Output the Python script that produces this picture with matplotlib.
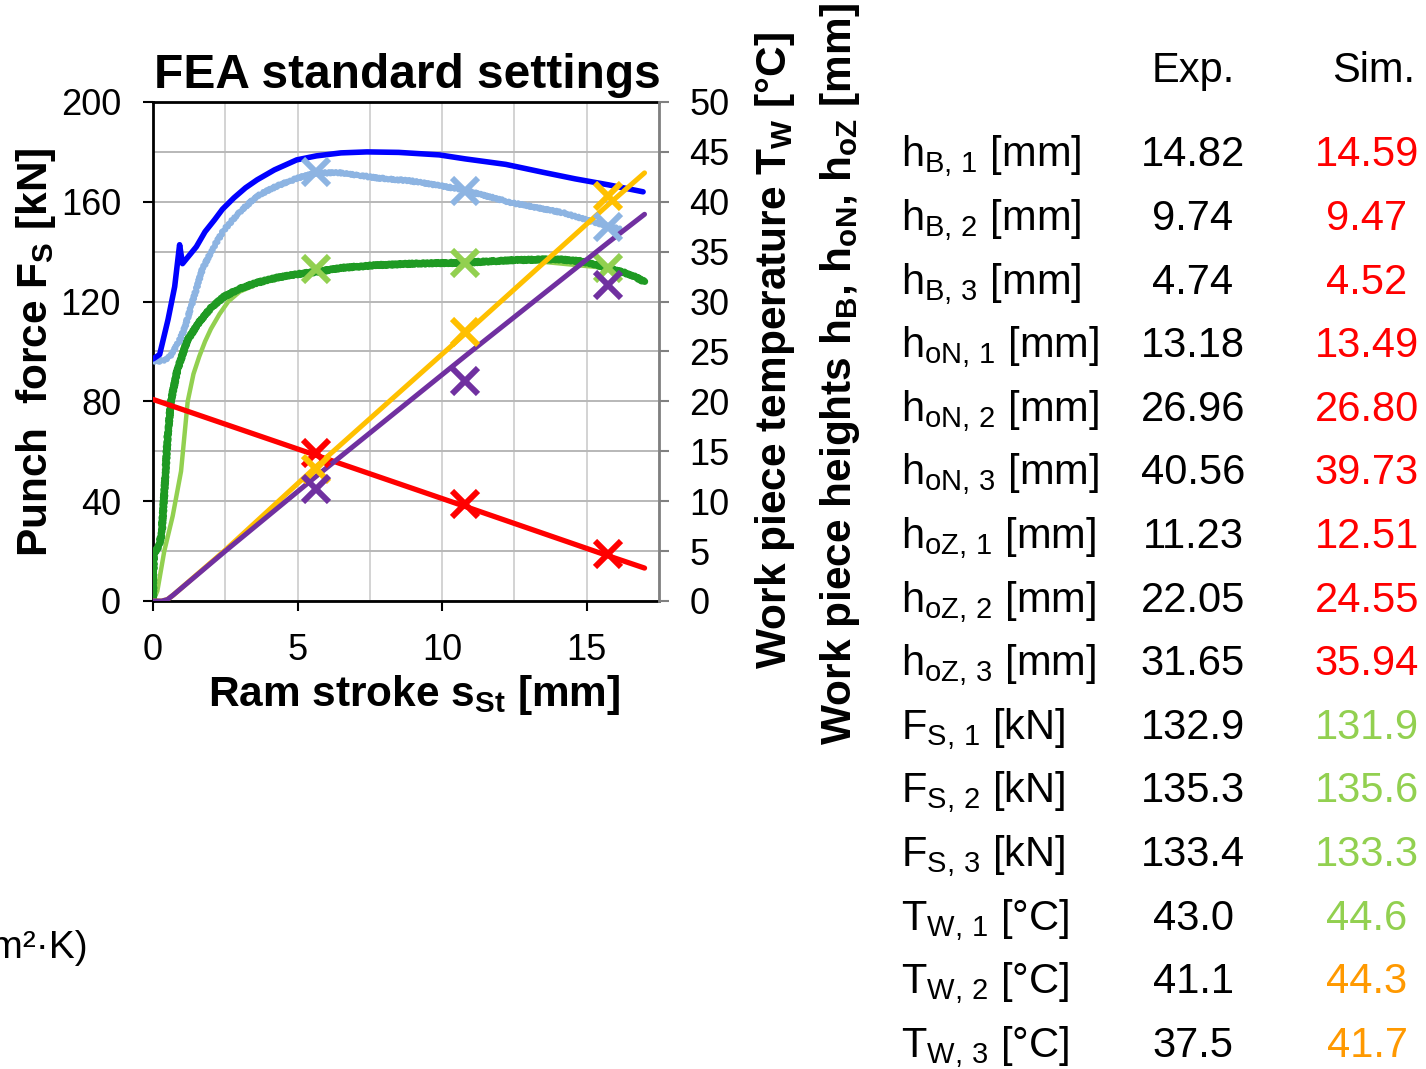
import matplotlib
matplotlib.use('Agg')
import matplotlib.pyplot as plt
from matplotlib import font_manager
from matplotlib.ticker import MultipleLocator

# ram stroke [mm] at the three interrupted forming stages
stage_stroke = [5.65, 10.8, 15.75]

# punch force F_S [kN], left axis
fs_sim_x = [0, 0.03, 0.2, 0.3, 0.4, 0.5, 0.62, 0.84, 1.19, 1.65, 2.0, 2.46, 3.0, 3.6,
            4.3, 5.0, 5.65, 6.5, 7.72, 9.0, 10.8, 12.4, 14.0, 14.8, 15.3, 15.75,
            16.3, 16.7, 17.0]
fs_sim_y = [0, 19, 22, 27, 45, 65, 80, 92.6, 104.6, 112.6, 117.5, 122, 125.2, 127.6,
            129.6, 131.0, 131.9, 133.5, 134.6, 135.2, 135.6, 136.6, 137.0, 136.2, 134.9, 133.3,
            131.6, 129.8, 127.9]
fs_exp_x = [0, 0.15, 0.39, 0.68, 0.97, 1.2, 1.4, 1.6, 1.8, 2.0, 2.3, 2.6, 3.0,
            3.6, 5.65, 7.7, 10.8, 13.0, 15.75, 16.3]
fs_exp_y = [0, 4, 20, 34, 52, 80, 91, 98, 104, 109, 115, 120, 124,
            127, 132.9, 134.5, 135.3, 136.5, 133.4, 131.5]
fs_exp_stage = [132.9, 135.3, 133.4]
fs_sim_stage = [131.9, 135.6, 133.3]

# work piece temperature T_W [°C], right axis
tw_sim_x = [0, 0.23, 0.52, 0.75, 0.92, 1.02, 1.5, 1.8, 2.13, 2.4, 2.8, 3.2, 3.6, 4.2,
            4.97, 5.65, 6.5, 7.4, 8.5, 9.9, 10.8, 12.2, 13.5, 14.6, 15.75, 16.95]
tw_sim_y = [24.25, 24.7, 28.2, 31.5, 35.7, 33.8, 35.5, 37.0, 38.2, 39.25, 40.4, 41.4, 42.2,
            43.2, 44.2, 44.6, 44.9, 45.0, 44.95, 44.7, 44.3, 43.75, 42.95, 42.3, 41.7, 41.0]
tw_exp_x = [0, 0.15, 0.38, 0.6, 0.73, 0.9, 1.07, 1.42, 1.7, 2.1, 2.46, 3.0, 3.61,
            4.3, 5.02, 5.67, 6.55, 7.72, 8.9, 10.66, 12.42, 14.18, 15.2, 16.17]
tw_exp_y = [24.1, 24.0, 24.15, 24.5, 25.15, 26.0, 27.15, 30.5, 33.2, 35.5, 37.2, 39.0, 40.6,
            41.6, 42.4, 42.9, 42.9, 42.4, 42.1, 41.25, 39.9, 38.9, 38.0, 37.25]
tw_exp_stage = [43.0, 41.1, 37.5]
tw_sim_stage = [44.6, 44.3, 41.7]

# work piece heights [mm], right axis
h_sim_x = [0, 0.3, 0.5, 0.7, 2.5, 5.65, 10.8, 15.75, 17.0]
hb_sim_x = [0, 5.65, 10.8, 15.75, 17.0]
hb_sim_y = [20.2, 14.59, 9.47, 4.52, 3.3]
hon_sim_y = [0, 0, 0.15, 0.6, 5.1, 13.49, 26.80, 39.73, 42.9]
hoz_sim_y = [0, 0, 0.15, 0.6, 5.0, 12.51, 24.55, 35.94, 38.75]
hb_exp_stage = [14.82, 9.74, 4.74]
hb_sim_stage = [14.59, 9.47, 4.52]
hon_exp_stage = [13.18, 26.96, 40.56]
hon_sim_stage = [13.49, 26.80, 39.73]
hoz_exp_stage = [11.23, 22.05, 31.65]
hoz_sim_stage = [12.51, 24.55, 35.94]

x_ticks = [0, 5, 10, 15]
left_ticks = [0, 40, 80, 120, 160, 200]
right_ticks = list(range(0, 51, 5))

BLUE = '#0000FF'
LIGHT_BLUE = '#8DB4E2'
GREEN = '#1F9A23'
LIGHT_GREEN = '#92D050'
RED = '#FF0000'
YELLOW = '#FFC000'
PURPLE = '#7030A0'
ORANGE = '#FF9900'

names = {f.name for f in font_manager.fontManager.ttflist}
if 'Liberation Sans Narrow' in names:
    bold_family, title_size, label_size = 'Liberation Sans Narrow', 41, 36
else:
    bold_family, title_size, label_size = 'Liberation Sans', 34.5, 30.5

plt.rcParams['font.family'] = ['Liberation Sans', 'DejaVu Sans']
plt.rcParams['mathtext.fontset'] = 'custom'
plt.rcParams['mathtext.rm'] = 'Liberation Sans'
plt.rcParams['mathtext.it'] = 'Liberation Sans:italic'

W, H = 1426, 1069
fig = plt.figure(figsize=(W / 100, H / 100), dpi=100)


def fx(x):
    return x / W


def fy(y):
    return 1 - y / H


ax = fig.add_axes([fx(153), fy(601), (659 - 153) / W, (601 - 102) / H])
ax.set_xlim(0, 17.5)
ax.set_ylim(0, 200)
ax.set_xticks(x_ticks)
ax.set_yticks(left_ticks)
ax.xaxis.set_minor_locator(MultipleLocator(2.5))
ax.yaxis.set_minor_locator(MultipleLocator(20))
ax.grid(which='both', axis='x', color='#C8C8C8', lw=1.1)
ax.grid(which='both', axis='y', color='#B8B8B8', lw=1.4)
ax.set_axisbelow(True)
ax.tick_params(which='minor', length=0)
ax.tick_params(axis='both', which='major', direction='out', length=7, width=1.5,
               labelsize=26, pad=16)
for s in ['left', 'bottom', 'top']:
    ax.spines[s].set_linewidth(2)
    ax.spines[s].set_color('black')
ax.spines['right'].set_visible(False)

ax2 = ax.twinx()
ax2.set_ylim(0, 50)
ax2.set_yticks(right_ticks)
ax2.tick_params(axis='y', direction='out', length=7, width=1.5, color='#808080',
                labelsize=26, pad=15)
for s in ['left', 'bottom', 'top']:
    ax2.spines[s].set_visible(False)
ax2.spines['right'].set_color('#808080')
ax2.spines['right'].set_linewidth(2)

mk = dict(ls='none', marker='x', ms=19, mew=4.3)

# punch force curves
ax.plot(fs_exp_x, fs_exp_y, color=LIGHT_GREEN, lw=3.2, solid_capstyle='round', zorder=2)
sim_force, = ax.plot(fs_sim_x, fs_sim_y, color=GREEN, lw=5.0, solid_capstyle='round', zorder=3)
sim_force.set_sketch_params(scale=0.8, length=4, randomness=2)
ax.plot(stage_stroke, fs_exp_stage, color=LIGHT_GREEN, zorder=5, **mk)

# temperature curves
meas_temp, = ax2.plot(tw_exp_x, tw_exp_y, color=LIGHT_BLUE, lw=3.8, solid_capstyle='round')
meas_temp.set_sketch_params(scale=1.2, length=4, randomness=2)
ax2.plot(tw_sim_x, tw_sim_y, color=BLUE, lw=4.0, solid_capstyle='round')

# height curves
ax2.plot(hb_sim_x, hb_sim_y, color=RED, lw=3.8, solid_capstyle='round')
ax2.plot(h_sim_x, hon_sim_y, color=YELLOW, lw=3.6, solid_capstyle='round')
ax2.plot(h_sim_x, hoz_sim_y, color=PURPLE, lw=3.6, solid_capstyle='round')

for vals, col in [(tw_exp_stage, LIGHT_BLUE), (hb_exp_stage, RED),
                  (hon_exp_stage, YELLOW), (hoz_exp_stage, PURPLE)]:
    ax2.plot(stage_stroke, vals, color=col, **mk)

# titles and axis labels
fig.text(fx(407), fy(88), 'FEA standard settings', ha='center', va='baseline',
         fontsize=title_size, fontweight='bold', family=bold_family)
fig.text(fx(414), fy(706), r'Ram stroke s$_\mathregular{St}$ [mm]', ha='center',
         va='baseline', fontsize=label_size, fontweight='bold', family=bold_family)
fig.text(fx(36), fy(352), r'Punch  force F$_\mathregular{S}$ [kN]', ha='center',
         va='center', rotation=90, fontsize=label_size, fontweight='bold',
         family=bold_family)
fig.text(fx(775), fy(350), r'Work piece temperature T$_\mathregular{W}$ [°C]',
         ha='center', va='center', rotation=90, fontsize=label_size,
         fontweight='bold', family=bold_family)
fig.text(fx(840), fy(374),
         r'Work piece heights h$_\mathregular{B}$, h$_\mathregular{oN}$, '
         r'h$_\mathregular{oZ}$ [mm]',
         ha='center', va='center', rotation=90, fontsize=label_size,
         fontweight='bold', family=bold_family)

# comparison table
row_labels = [r'h$_\mathregular{B,\,%d}$ [mm]' % i for i in (1, 2, 3)] + \
             [r'h$_\mathregular{oN,\,%d}$ [mm]' % i for i in (1, 2, 3)] + \
             [r'h$_\mathregular{oZ,\,%d}$ [mm]' % i for i in (1, 2, 3)] + \
             [r'F$_\mathregular{S,\,%d}$ [kN]' % i for i in (1, 2, 3)] + \
             [r'T$_\mathregular{W,\,%d}$ [°C]' % i for i in (1, 2, 3)]
exp_vals = ['%.2f' % v for v in hb_exp_stage + hon_exp_stage + hoz_exp_stage] + \
           ['%.1f' % v for v in fs_exp_stage + tw_exp_stage]
sim_vals = ['%.2f' % v for v in hb_sim_stage + hon_sim_stage + hoz_sim_stage] + \
           ['%.1f' % v for v in fs_sim_stage + tw_sim_stage]
sim_colors = [RED] * 9 + [LIGHT_GREEN] * 4 + [ORANGE] * 2

fig.text(fx(1193), fy(82), 'Exp.', ha='center', va='baseline', fontsize=30)
fig.text(fx(1374), fy(82), 'Sim.', ha='center', va='baseline', fontsize=30)
for i, (lab, e, s, c) in enumerate(zip(row_labels, exp_vals, sim_vals, sim_colors)):
    y = 166.5 + 63.6 * i
    fig.text(fx(901), fy(y), lab, ha='left', va='baseline', fontsize=30)
    fig.text(fx(1193), fy(y), e, ha='center', va='baseline', fontsize=30)
    fig.text(fx(1367), fy(y), s, ha='center', va='baseline', fontsize=30, color=c)

fig.text(fx(88), fy(958), 'W/(m²·K)', ha='right', va='baseline', fontsize=28)

fig.savefig('out.png', dpi=100)
